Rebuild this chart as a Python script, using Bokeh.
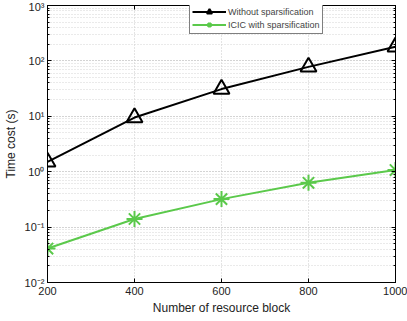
from bokeh.plotting import figure
from bokeh.models import (LogAxis, LinearAxis, FixedTicker, Range1d, Legend, LegendItem,
                          LogTicker, CustomJSTickFormatter)
from bokeh.embed import file_html
from bokeh.resources import INLINE

blocks = [200, 400, 600, 800, 1000]
without_sparse = [1.5, 9.5, 31, 78, 180]
icic_sparse = [0.041, 0.14, 0.32, 0.63, 1.07]
x_ticks = [200, 400, 600, 800, 1000]
y_ticks = [0.01, 0.1, 1, 10, 100, 1000]
y_tick_labels = ["10⁻²", "10⁻¹", "10⁰", "10¹", "10²", "10³"]

FONT = "Liberation Sans"
GREEN = "#5BC94B"

p = figure(width=407, height=321, y_axis_type="log", output_backend="svg",
           toolbar_location=None, x_range=Range1d(200, 1000), y_range=Range1d(0.01, 1000),
           min_border_left=44, min_border_right=12, min_border_top=5, min_border_bottom=39)
p.background_fill_color = "white"
p.border_fill_color = "white"
p.outline_line_color = "black"
p.outline_line_width = 1

for ax in [p.xaxis[0], p.yaxis[0]]:
    ax.major_label_text_font = FONT
    ax.major_label_text_font_size = "11px"
    ax.major_label_text_color = "#222222"
    ax.axis_label_text_font = FONT
    ax.axis_label_text_font_size = "12px"
    ax.axis_label_text_font_style = "normal"
    ax.axis_label_text_color = "#222222"
    ax.major_tick_in = 4
    ax.major_tick_out = 0
    ax.minor_tick_in = 2
    ax.minor_tick_out = 0
    ax.axis_line_color = "black"

p.xaxis[0].ticker = FixedTicker(ticks=x_ticks)
p.xaxis[0].minor_tick_line_color = None
p.xaxis[0].axis_label = "Number of resource block"
p.xaxis[0].axis_label_standoff = 3
p.xaxis[0].major_label_standoff = 4
p.yaxis[0].axis_label = "Time cost (s)"
p.yaxis[0].axis_label_standoff = 4
p.yaxis[0].major_label_standoff = 3
p.yaxis[0].major_label_overrides = {t: l for t, l in zip(y_ticks, y_tick_labels)}
p.yaxis[0].ticker = LogTicker(num_minor_ticks=10)

ra = LogAxis(formatter=CustomJSTickFormatter(code="return ''"), major_label_standoff=0,
             major_tick_in=4, major_tick_out=0,
             minor_tick_in=2, minor_tick_out=0, ticker=LogTicker(num_minor_ticks=10))
ta = LinearAxis(formatter=CustomJSTickFormatter(code="return ''"), major_label_standoff=0,
                major_tick_in=4, major_tick_out=0,
                minor_tick_line_color=None, ticker=FixedTicker(ticks=x_ticks))
p.add_layout(ra, "right")
p.add_layout(ta, "above")

p.xgrid.grid_line_color = "#c8c8c8"
p.xgrid.grid_line_dash = "1 2"
p.ygrid.grid_line_color = "#c8c8c8"
p.ygrid.grid_line_dash = "1 2"
p.ygrid.minor_grid_line_color = "#d4d4d4"
p.ygrid.minor_grid_line_dash = "1 2"
p.ygrid.ticker = LogTicker(num_minor_ticks=10)

l1 = p.line(blocks, without_sparse, line_color="black", line_width=2)
m1 = p.scatter(blocks, without_sparse, marker="triangle", size=16, line_color="black",
               fill_color=None, line_width=2)
l2 = p.line(blocks, icic_sparse, line_color=GREEN, line_width=2)
m2 = p.scatter(blocks, icic_sparse, marker="asterisk", size=16, line_color=GREEN, line_width=2)

legend = Legend(items=[LegendItem(label="Without sparsification", renderers=[l1, m1]),
                       LegendItem(label="ICIC with sparsification", renderers=[l2, m2])],
                location=(142, 248), label_text_font=FONT, label_text_font_size="9px",
                label_height=13, glyph_height=13, glyph_width=34, spacing=0,
                padding=2, margin=0, label_standoff=2,
                border_line_color="black", border_line_width=1,
                background_fill_alpha=1)
p.add_layout(legend, "center")

open("out.html", "w").write(file_html(p, INLINE))
